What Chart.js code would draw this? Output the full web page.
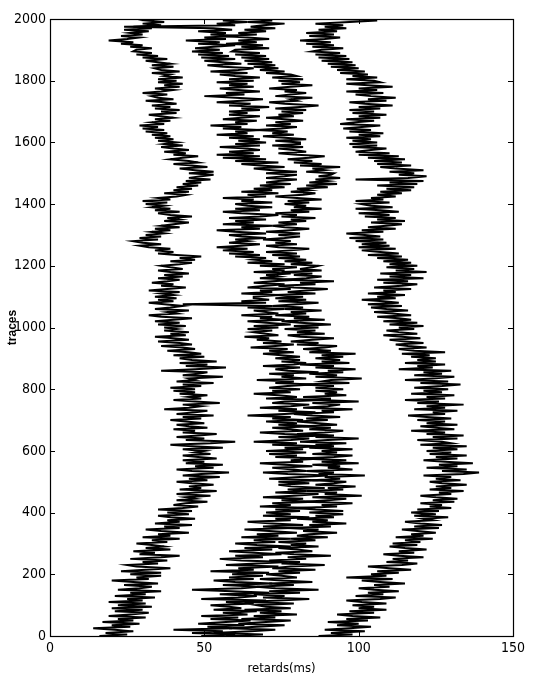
<!DOCTYPE html>
<html>
<head>
<meta charset="utf-8">
<script src="https://cdn.jsdelivr.net/npm/chart.js@4.4.1/dist/chart.umd.min.js"></script>
<style>
  html, body { margin: 0; padding: 0; background: #fff; }
  #wrap { width: 535px; height: 681px; }
</style>
</head>
<body>
<div id="wrap"><canvas id="picks"></canvas></div>
<script>
// picked arrival time (ms) for every 5th trace, trace 0 .. 2000
let traceStep = 5
let xTicks = [0, 50, 100, 150]
let yTicks = [0, 200, 400, 600, 800, 1000, 1200, 1400, 1600, 1800, 2000]

let pickA = [
  16, 25, 18, 27, 21, 14, 26, 20, 29, 17, 27, 22, 31, 19, 26, 32, 21, 30, 20, 33,
  22, 31, 19, 30, 25, 34, 21, 31, 26, 36, 22, 29, 33, 24, 35, 27, 20, 32, 28, 36,
  26, 36, 23, 31, 39, 28, 25, 35, 30, 38, 26, 36, 42, 29, 34, 27, 39, 31, 37, 33,
  28, 38, 33, 42, 30, 39, 35, 45, 36, 31, 42, 37, 46, 34, 42, 38, 47, 39, 35, 45,
  38, 46, 35, 43, 48, 40, 44, 51, 41, 47, 44, 52, 41, 47, 54, 42, 49, 45, 53, 46,
  41, 51, 45, 55, 43, 49, 58, 46, 41, 53, 47, 56, 44, 50, 43, 54, 48, 43, 52, 47,
  50, 43, 56, 46, 39, 52, 60, 44, 50, 41, 48, 54, 43, 47, 40, 51, 45, 41, 50, 44,
  39, 49, 43, 53, 41, 47, 51, 37, 45, 49, 43, 55, 47, 40, 49, 45, 51, 42, 47, 40,
  47, 39, 49, 43, 53, 41, 47, 45, 56, 43, 48, 51, 36, 47, 57, 44, 51, 42, 54, 46,
  42, 50, 40, 49, 45, 38, 47, 43, 36, 46, 42, 35, 45, 40, 34, 44, 39, 45, 37, 41,
  37, 44, 35, 42, 34, 40, 46, 36, 32, 41, 38, 45, 34, 39, 43, 37, 32, 40, 35, 41,
  34, 40, 36, 42, 32, 38, 44, 36, 40, 33, 38, 42, 35, 43, 37, 45, 39, 35, 43, 39,
  36, 42, 46, 39, 47, 42, 49, 41, 35, 40, 34, 39, 32, 29, 36, 30, 27, 35, 29, 36,
  31, 37, 33, 39, 34, 42, 36, 40, 45, 37, 42, 38, 46, 39, 35, 42, 34, 39, 33, 37,
  31, 38, 30, 39, 35, 41, 44, 37, 45, 40, 46, 41, 48, 43, 49, 44, 52, 45, 49, 53,
  45, 53, 47, 42, 51, 46, 40, 48, 45, 39, 43, 48, 40, 44, 37, 45, 40, 36, 43, 37,
  41, 35, 40, 34, 39, 33, 38, 31, 37, 30, 35, 29, 37, 33, 39, 34, 40, 36, 32, 41,
  36, 42, 34, 39, 33, 41, 37, 31, 40, 35, 33, 38, 30, 36, 40, 34, 42, 37, 43, 35,
  41, 35, 43, 37, 39, 33, 42, 36, 34, 40, 33, 39, 35, 31, 38, 30, 35, 28, 33, 27,
  28, 33, 26, 30, 23, 27, 19, 25, 29, 23, 30, 26, 32, 24, 33, 27, 36, 30, 37, 31,
  34
]

let pickB = [
  49, 60, 46, 56, 40, 59, 51, 63, 48, 57, 65, 52, 61, 49, 64, 56, 67, 53, 62, 58,
  52, 66, 57, 70, 49, 61, 67, 55, 71, 59, 46, 62, 68, 56, 72, 60, 53, 66, 58, 69,
  59, 71, 52, 66, 61, 74, 57, 67, 77, 62, 55, 69, 60, 75, 66, 58, 72, 63, 78, 67,
  60, 73, 66, 78, 62, 74, 67, 80, 71, 63, 78, 69, 82, 72, 64, 78, 73, 84, 69, 78,
  70, 81, 73, 85, 68, 78, 72, 86, 75, 82, 69, 79, 87, 73, 83, 77, 89, 78, 74, 84,
  74, 87, 71, 81, 90, 77, 69, 83, 79, 72, 85, 76, 68, 82, 78, 88, 73, 80, 71, 83,
  70, 82, 76, 88, 72, 80, 66, 78, 84, 74, 90, 76, 68, 82, 78, 72, 86, 74, 80, 70,
  82, 72, 78, 64, 76, 86, 74, 80, 68, 78, 84, 72, 76, 88, 70, 80, 74, 66, 78, 72,
  81, 71, 77, 85, 73, 79, 67, 83, 75, 79, 71, 87, 77, 73, 81, 69, 79, 83, 75, 81,
  73, 81, 75, 69, 79, 71, 77, 65, 73, 79, 69, 75, 67, 71, 63, 74, 70, 66, 72, 64,
  74, 66, 78, 70, 64, 76, 68, 72, 62, 74, 70, 66, 76, 64, 72, 43, 70, 62, 71, 66,
  66, 74, 62, 72, 68, 78, 64, 70, 76, 66, 72, 80, 68, 74, 70, 78, 66, 76, 72, 80,
  68, 76, 64, 72, 66, 70, 60, 68, 58, 66, 56, 64, 54, 62, 68, 58, 64, 60, 70, 62,
  58, 70, 60, 54, 68, 62, 72, 56, 66, 60, 70, 58, 68, 74, 62, 56, 68, 60, 72, 64,
  60, 72, 62, 66, 56, 70, 64, 74, 62, 72, 66, 76, 68, 78, 70, 74, 80, 70, 76, 80,
  70, 80, 72, 66, 76, 68, 62, 74, 60, 70, 56, 68, 54, 66, 58, 68, 64, 55, 68, 60,
  70, 61, 68, 58, 66, 54, 64, 60, 68, 56, 62, 52, 64, 60, 67, 56, 62, 68, 58, 64,
  58, 68, 62, 71, 58, 65, 54, 62, 69, 60, 50, 63, 57, 68, 61, 55, 66, 58, 64, 54,
  66, 58, 68, 60, 55, 64, 52, 61, 66, 56, 51, 62, 56, 50, 60, 49, 58, 48, 56, 46,
  55, 47, 53, 60, 48, 55, 44, 57, 50, 61, 52, 57, 48, 59, 53, 24, 60, 54, 64, 56,
  60
]

let pickC = [
  57, 69, 53, 65, 73, 58, 67, 76, 61, 70, 78, 62, 73, 66, 80, 68, 75, 63, 78, 70,
  67, 79, 63, 74, 84, 69, 76, 66, 81, 71, 87, 73, 67, 79, 71, 85, 75, 68, 80, 75,
  70, 81, 74, 86, 72, 78, 89, 75, 81, 71, 83, 77, 91, 79, 73, 85, 80, 74, 87, 78,
  83, 74, 86, 78, 90, 80, 84, 93, 82, 87, 77, 91, 84, 96, 85, 90, 80, 92, 86, 95,
  84, 95, 86, 80, 93, 88, 98, 83, 90, 96, 85, 101, 89, 93, 83, 95, 90, 99, 86, 92,
  96, 85, 94, 89, 102, 87, 92, 83, 98, 90, 94, 85, 100, 88, 96, 81, 92, 98, 85, 93,
  88, 98, 84, 92, 86, 96, 81, 90, 100, 86, 92, 80, 89, 95, 84, 91, 82, 93, 87, 80,
  90, 83, 94, 85, 79, 92, 88, 98, 82, 90, 94, 85, 100, 87, 91, 82, 96, 89, 93, 86,
  95, 86, 92, 81, 97, 88, 91, 101, 86, 93, 84, 95, 90, 99, 86, 92, 81, 97, 88, 94,
  86, 95, 88, 99, 84, 91, 82, 89, 93, 80, 87, 78, 85, 92, 81, 77, 89, 80, 86, 76,
  87, 79, 91, 81, 75, 89, 79, 84, 73, 83, 78, 88, 76, 82, 72, 80, 87, 74, 83, 73,
  82, 73, 86, 77, 83, 90, 79, 74, 86, 81, 92, 76, 83, 88, 79, 85, 75, 88, 81, 85,
  87, 78, 85, 76, 83, 74, 81, 72, 80, 70, 78, 84, 74, 70, 80, 73, 78, 69, 76, 81,
  74, 81, 70, 78, 84, 76, 72, 80, 74, 83, 78, 86, 75, 80, 73, 84, 78, 88, 79, 83,
  76, 84, 77, 88, 80, 73, 82, 86, 78, 84, 80, 90, 83, 93, 84, 90, 86, 94, 87, 91,
  92, 83, 89, 85, 94, 81, 88, 79, 85, 77, 84, 89, 80, 74, 83, 79, 74, 82, 72, 81,
  81, 73, 83, 76, 69, 79, 72, 77, 67, 75, 80, 70, 78, 73, 82, 76, 70, 79, 74, 82,
  75, 83, 73, 81, 87, 76, 71, 80, 78, 85, 73, 78, 83, 76, 80, 71, 78, 85, 75, 81,
  74, 82, 72, 80, 78, 70, 76, 68, 74, 66, 73, 64, 72, 63, 71, 62, 70, 60, 68, 59,
  60, 71, 62, 69, 57, 67, 61, 71, 64, 56, 67, 61, 70, 63, 73, 65, 69, 76, 64, 72,
  68
]

let pickD = [
  87, 98, 91, 102, 89, 97, 104, 93, 100, 90, 103, 96, 107, 98, 93, 105, 97, 109, 100, 105,
  98, 109, 101, 96, 107, 112, 99, 108, 103, 113, 105, 100, 110, 105, 115, 107, 101, 111, 96, 109,
  104, 113, 106, 117, 110, 103, 114, 119, 109, 116, 111, 121, 113, 108, 118, 113, 122, 115, 110, 119,
  111, 120, 115, 124, 112, 121, 117, 125, 119, 114, 126, 118, 127, 120, 115, 124, 121, 129, 118, 125,
  117, 126, 119, 130, 123, 127, 120, 131, 124, 132, 125, 120, 130, 126, 134, 123, 130, 125, 135, 127,
  123, 133, 125, 130, 121, 134, 139, 127, 135, 122, 132, 126, 137, 128, 121, 132, 125, 135, 123, 130,
  122, 132, 124, 135, 120, 130, 127, 119, 132, 124, 134, 122, 128, 117, 131, 125, 120, 132, 122, 128,
  119, 130, 122, 116, 128, 124, 132, 118, 128, 122, 134, 119, 126, 115, 128, 122, 131, 117, 127, 121,
  129, 118, 127, 133, 120, 129, 115, 124, 131, 118, 127, 121, 130, 113, 124, 119, 128, 115, 125, 119,
  125, 117, 123, 114, 128, 118, 113, 122, 116, 112, 121, 115, 110, 120, 114, 108, 119, 113, 109, 118,
  113, 121, 110, 119, 108, 117, 113, 106, 117, 111, 105, 116, 109, 104, 114, 103, 113, 108, 101, 112,
  106, 115, 103, 112, 108, 117, 105, 114, 119, 108, 116, 106, 121, 110, 117, 107, 122, 112, 118, 109,
  119, 110, 117, 108, 116, 106, 114, 103, 113, 107, 101, 112, 100, 110, 101, 109, 99, 108, 97, 107,
  102, 96, 108, 101, 112, 103, 109, 114, 104, 115, 106, 112, 102, 110, 100, 113, 107, 99, 111, 104,
  101, 110, 99, 108, 104, 112, 106, 114, 107, 117, 109, 118, 106, 119, 110, 121, 99, 116, 122, 113,
  118, 110, 121, 112, 107, 117, 106, 114, 105, 115, 103, 113, 100, 110, 99, 104, 109, 98, 106, 97,
  106, 98, 104, 96, 107, 100, 108, 97, 104, 95, 101, 107, 94, 99, 105, 96, 107, 100, 109, 98,
  105, 97, 107, 100, 111, 102, 97, 109, 103, 112, 104, 99, 108, 96, 106, 100, 111, 103, 96, 107,
  105, 96, 106, 98, 103, 94, 102, 93, 100, 91, 99, 90, 98, 88, 97, 87, 96, 86, 94, 85,
  88, 95, 85, 92, 83, 91, 81, 89, 94, 84, 92, 83, 93, 87, 96, 89, 95, 86, 97, 106,
  94
]

let traceNo = pickA.map((v, i) => i * traceStep)

function toPoints(picks) {
  return picks.map((ms, i) => ({ x: ms, y: traceNo[i] }))
}

let labelFont = "'Liberation Sans Narrow', 'DejaVu Sans Condensed', 'Liberation Sans', Arial, sans-serif"

// matlab style frame: full box with ticks pointing inward on all four sides
let boxTicks = {
  id: 'boxTicks',
  afterDraw(chart) {
    let { ctx, chartArea: a, scales } = chart
    let len = 5
    ctx.save()
    ctx.strokeStyle = '#000'
    ctx.lineWidth = 1
    ctx.beginPath()
    xTicks.forEach(v => {
      let px = Math.round(scales.x.getPixelForValue(v)) + 0.5
      ctx.moveTo(px, a.bottom); ctx.lineTo(px, a.bottom - len)
      ctx.moveTo(px, a.top); ctx.lineTo(px, a.top + len)
    })
    yTicks.forEach(v => {
      let py = Math.round(scales.y.getPixelForValue(v)) + 0.5
      ctx.moveTo(a.left, py); ctx.lineTo(a.left + len, py)
      ctx.moveTo(a.right, py); ctx.lineTo(a.right - len, py)
    })
    ctx.stroke()
    ctx.lineWidth = 1.2
    ctx.strokeRect(Math.round(a.left) + 0.5, Math.round(a.top) + 0.5,
      Math.round(a.right - a.left), Math.round(a.bottom - a.top))
    ctx.restore()
  }
}

let traceStyle = {
  borderColor: '#000',
  borderWidth: 2,
  pointRadius: 0,
  tension: 0,
  fill: false
}

let picks = new Chart(document.querySelector('#picks'), {
  type: 'line',
  plugins: [boxTicks],
  data: {
    datasets: [
      { label: 'A', data: toPoints(pickA), ...traceStyle },
      { label: 'B', data: toPoints(pickB), ...traceStyle },
      { label: 'C', data: toPoints(pickC), ...traceStyle },
      { label: 'D', data: toPoints(pickD), ...traceStyle }
    ]
  },
  options: {
    animation: false,
    responsive: true,
    maintainAspectRatio: false,
    layout: {
      padding: {
        top: 19,
        right: 22,
        left: 0,
        bottom: 0
      }
    },
    scales: {
      x: {
        type: 'linear',
        min: 0,
        max: 150,
        afterBuildTicks: scale => { scale.ticks = xTicks.map(v => ({ value: v })) },
        afterFit: scale => {
          scale.height = 45
          scale.paddingLeft = 0
          scale.paddingRight = 0
        },
        border: {
          display: false
        },
        grid: {
          display: false,
          drawTicks: false
        },
        ticks: {
          padding: 4,
          maxRotation: 0,
          color: '#000',
          callback: v => String(v),
          font: {
            family: labelFont,
            size: 14
          }
        },
        title: {
          display: true,
          text: 'retards(ms)',
          color: '#000',
          padding: { top: 0, bottom: 5 },
          font: {
            family: labelFont,
            size: 13
          }
        }
      },
      y: {
        type: 'linear',
        min: 0,
        max: 2000,
        afterBuildTicks: scale => { scale.ticks = yTicks.map(v => ({ value: v })) },
        afterFit: scale => {
          scale.width = 50
          scale.paddingTop = 0
          scale.paddingBottom = 0
        },
        border: {
          display: false
        },
        grid: {
          display: false,
          drawTicks: false
        },
        ticks: {
          padding: 4,
          color: '#000',
          callback: v => String(v),
          font: {
            family: labelFont,
            size: 14
          }
        },
        title: {
          display: true,
          text: 'traces',
          color: '#000',
          padding: { top: 5, bottom: 0 },
          font: {
            family: "'Liberation Sans', Arial, sans-serif",
            size: 12,
            weight: 'bold'
          }
        }
      }
    },
    plugins: {
      legend: {
        display: false
      },
      tooltip: {
        enabled: false
      }
    }
  }
})
</script>
</body>
</html>
